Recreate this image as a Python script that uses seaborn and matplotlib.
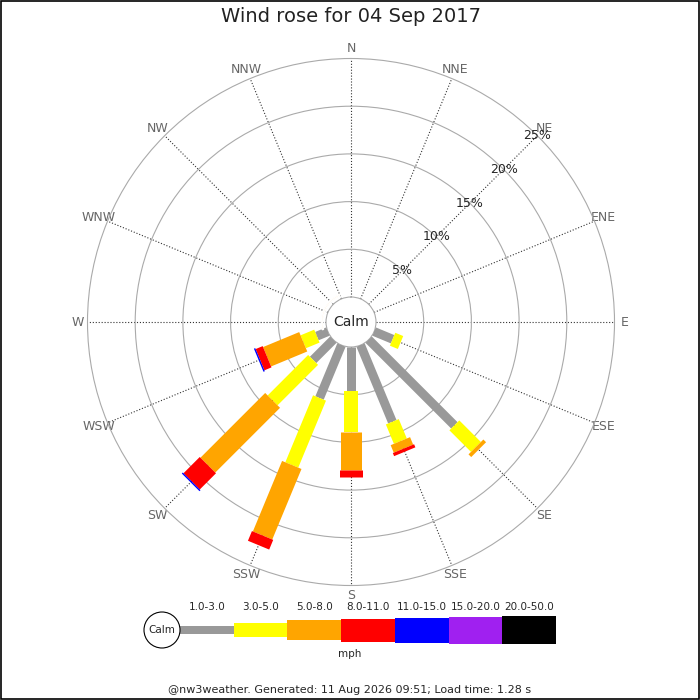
import numpy as np
import matplotlib
matplotlib.use("Agg")
import matplotlib.pyplot as plt
from matplotlib.patches import Circle, Rectangle
import seaborn as sns

sns.set_style("white")
plt.rcParams["font.family"] = ["DejaVu Sans"]

# ---- data (percent of the day, per speed class and direction) ----
directions = ["N", "NNE", "NE", "ENE", "E", "ESE", "SE", "SSE",
              "S", "SSW", "SW", "WSW", "W", "WNW", "NW", "NNW"]
speed_bins = ["1.0-3.0", "3.0-5.0", "5.0-8.0", "8.0-11.0",
              "11.0-15.0", "15.0-20.0", "20.0-50.0"]

pct_1_3 = [0, 0, 0, 0, 0, 2.1, 12.7, 8.7, 4.6, 6.0, 3.0, 1.25, 0, 0, 0, 0]
pct_3_5 = [0, 0, 0, 0, 0, 0.9, 3.2, 2.2, 4.3, 7.6, 6.0, 1.55, 0, 0, 0, 0]
pct_5_8 = [0, 0, 0, 0, 0, 0, 0.4, 0.85, 4.0, 8.0, 9.6, 4.1, 0, 0, 0, 0]
pct_8_11 = [0, 0, 0, 0, 0, 0, 0, 0.35, 0.75, 1.1, 2.4, 0.8, 0, 0, 0, 0]
pct_11_15 = [0, 0, 0, 0, 0, 0, 0, 0, 0, 0, 0.15, 0.15, 0, 0, 0, 0]
pct_15_20 = [0] * 16
pct_20_50 = [0] * 16

# small orange arc next to the calm circle (bearings in degrees, radius in %)
arc_from, arc_to, arc_r = 255, 337, 0.35

ring_pcts = [5, 10, 15, 20, 25]

title = "Wind rose for 04 Sep 2017"
footer = "@nw3weather. Generated: 11 Aug 2026 09:51; Load time: 1.28 s"

# ---- styles ----
colours = sns.color_palette(["#999999", "#ffff00", "#ffa500", "#ff0000",
                             "#0000ff", "#a020f0", "#000000"])
bar_px = [9, 14, 21, 23, 25, 27, 28]          # bar thickness in pixels
leg_px = [8, 14, 20.5, 23, 25, 27, 28.5]

series = [pct_1_3, pct_3_5, pct_5_8, pct_8_11, pct_11_15, pct_15_20, pct_20_50]

cx, cy, R = 351, 322, 263.5
hole = 25 / ((R - 25) / 25)   # calm hole in % units

fig = plt.figure(figsize=(7, 7), dpi=100)

# overlay in pixel coordinates for title, legend and footer
bg = fig.add_axes([0, 0, 1, 1])
bg.set_xlim(0, 700)
bg.set_ylim(700, 0)
bg.axis("off")

ax = fig.add_axes([(cx - R) / 700, (700 - cy - R) / 700, 2 * R / 700, 2 * R / 700],
                  projection="polar")
ax.set_theta_zero_location("N")
ax.set_theta_direction(-1)
ax.set_ylim(0, 25)
ax.set_rorigin(-hole)

theta = np.deg2rad(np.arange(16) * 22.5)
ax.set_xticks(theta)
ax.set_xticklabels(directions)
ax.tick_params(axis="x", pad=-3.5, labelsize=9, labelcolor="#666666")
ax.xaxis.grid(True, color="#333333", linestyle=":", linewidth=0.8)
ax.set_yticks(ring_pcts[:-1])
ax.set_yticklabels([])
ax.yaxis.grid(True, color="#aaaaaa", linestyle="-", linewidth=0.8)
ax.spines["polar"].set_color("#aaaaaa")
ax.spines["polar"].set_linewidth(0.8)
ax.spines["inner"].set_color("#aaaaaa")
ax.spines["inner"].set_linewidth(0.8)
ax.set_axisbelow(True)

# stacked radial bars, constant pixel width
base = np.zeros(16)
for vals, col, w in zip(series, colours, bar_px):
    vals = np.array(vals, dtype=float)
    for th, b, v in zip(theta, base, vals):
        if v > 0:
            ax.plot([th, th], [b, b + v], color=col, lw=w * 0.72,
                    solid_capstyle="butt", zorder=3)
    base = base + vals

ax.bar(np.deg2rad((arc_from + arc_to) / 2), 0.15, width=np.deg2rad(arc_to - arc_from),
       bottom=arc_r, color=colours[2], zorder=3)

for p in ring_pcts:
    ax.text(np.pi / 4, p, f"{p}%", ha="center", va="center", fontsize=9, zorder=4)

ax.text(0.5, 0.5, "Calm", transform=ax.transAxes, ha="center", va="center",
        fontsize=10)

# title
bg.text(351, 16, title, ha="center", va="center", fontsize=14, color="#222222")

# legend
seg_w = 53.7
lefts = 180 + seg_w * np.arange(len(speed_bins))
bg.barh(y=[630] * len(speed_bins), width=seg_w, left=lefts, height=leg_px,
        color=colours, edgecolor="none")
for x0, lab in zip(lefts, speed_bins):
    bg.text(x0 + seg_w / 2, 607, lab, ha="center", va="center", fontsize=7.5)
bg.add_patch(Circle((162, 630), 18, facecolor="white", edgecolor="black", lw=0.8,
                    zorder=5))
bg.text(162, 630, "Calm", ha="center", va="center", fontsize=7.5, zorder=6)
bg.text(350, 654, "mph", ha="center", va="center", fontsize=7.5)

bg.text(350, 690, footer, ha="center", va="center", fontsize=8)

fig.patches.append(Rectangle((0.0008, 0.0008), 0.9984, 0.9984, transform=fig.transFigure,
                             fill=False, edgecolor="black", lw=1.2))

fig.savefig("out.png", dpi=100)
